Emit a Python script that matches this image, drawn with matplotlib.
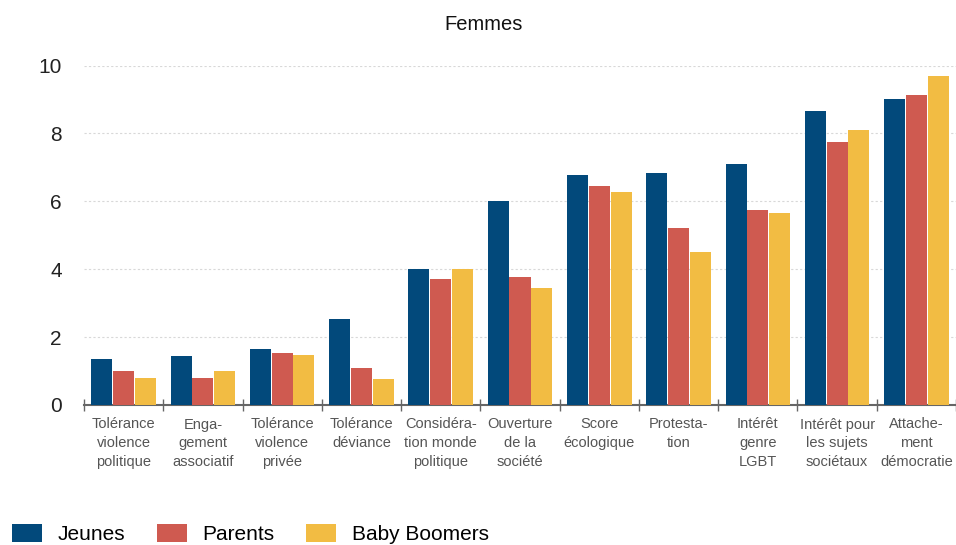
import matplotlib
matplotlib.use("Agg")
import matplotlib.pyplot as plt
import numpy as np
from matplotlib.patches import Patch

plt.rcParams['font.family'] = ['Liberation Sans', 'DejaVu Sans']

categories = [
    "Tolérance\nviolence\npolitique",
    "Enga-\ngement\nassociatif",
    "Tolérance\nviolence\nprivée",
    "Tolérance\ndéviance",
    "Considéra-\ntion monde\npolitique",
    "Ouverture\nde la\nsociété",
    "Score\nécologique",
    "Protesta-\ntion",
    "Intérêt\ngenre\nLGBT",
    "Intérêt pour\nles sujets\nsociétaux",
    "Attache-\nment\ndémocratie",
]
series_names = ["Jeunes", "Parents", "Baby Boomers"]
jeunes = [1.35, 1.44, 1.65, 2.53, 4.0, 6.0, 6.76, 6.82, 7.09, 8.65, 9.0]
parents = [1.0, 0.79, 1.53, 1.09, 3.71, 3.76, 6.44, 5.21, 5.74, 7.74, 9.12]
boomers = [0.79, 1.0, 1.47, 0.76, 4.0, 3.44, 6.26, 4.5, 5.65, 8.09, 9.68]
colors = ["#02497b", "#cf5a50", "#f2bc43"]
yticks = [0, 2, 4, 6, 8, 10]

fig = plt.figure(figsize=(9.56, 5.45), dpi=100)
ax = fig.add_axes([84/956, 1 - 405/545, 872/956, (405 - 65.5)/545])

x = np.arange(len(categories))
w = 0.265
for i, (vals, c) in enumerate(zip([jeunes, parents, boomers], colors)):
    ax.bar(x + (i - 1) * 0.275, vals, width=w, color=c, zorder=3)

ax.set_xlim(-0.5, len(categories) - 0.5)
ax.set_ylim(0, 10)
ax.set_yticks(yticks)
ax.set_yticklabels([str(t) for t in yticks], fontsize=15, color="#222222")
ax.tick_params(axis='y', length=0, pad=16)
for t in yticks[1:]:
    ax.axhline(t, color="#d8d8d8", linestyle=(0, (2, 2)), linewidth=0.8, zorder=1)

ax.set_xticks(x)
ax.set_xticklabels(categories, fontsize=10.5, color="#555555", linespacing=1.45)
ax.tick_params(axis='x', length=0, pad=9)
ax.set_xticks(np.arange(-0.5, len(categories) + 0.5, 1), minor=True)
ax.tick_params(axis='x', which='minor', length=8, direction='inout', color="#666666", width=1)

for s in ["top", "right", "left"]:
    ax.spines[s].set_visible(False)
ax.spines["bottom"].set_color("#666666")
ax.spines["bottom"].set_linewidth(1.5)

fig.text(484/956, 1 - 25/545, "Femmes", ha="center", va="center", fontsize=14.5, color="#111111")

handles = [Patch(facecolor=c, edgecolor="none") for c in colors]
fig.legend(handles, series_names, loc="center left", bbox_to_anchor=(12/956, 1 - 534/545),
           ncol=3, frameon=False, fontsize=15, handlelength=1.45, handleheight=0.95,
           handletextpad=0.75, columnspacing=1.5, borderaxespad=0, borderpad=0)

fig.savefig("out.png", dpi=100)
